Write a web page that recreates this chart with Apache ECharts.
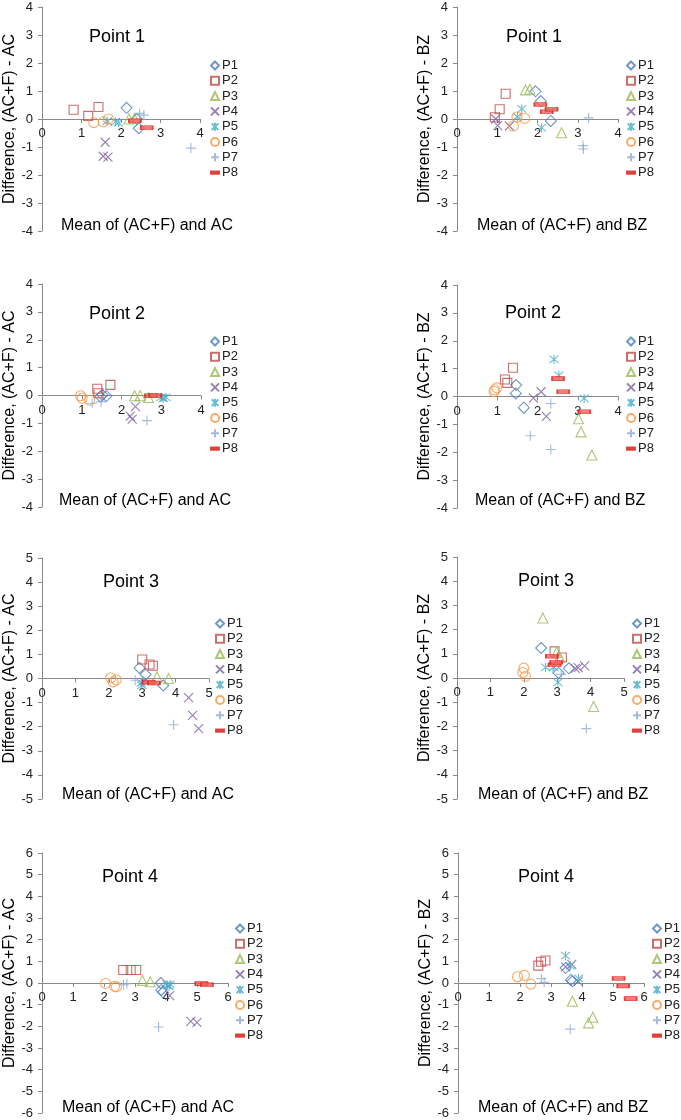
<!DOCTYPE html>
<html>
<head>
<meta charset="utf-8">
<script src="https://cdn.jsdelivr.net/npm/echarts@6/dist/echarts.min.js"></script>
<style>
html,body{margin:0;padding:0;background:#fff;}
#chart{width:681px;height:1120px;}
</style>
</head>
<body>
<div id="chart"></div>
<script>
// ---- DATA ----
const seriesNames = ['P1','P2','P3','P4','P5','P6','P7','P8'];
const panelTitles = ['Point 1','Point 1','Point 2','Point 2','Point 3','Point 3','Point 4','Point 4'];
const yTitles = ['Difference, (AC+F) - AC','Difference, (AC+F) - BZ'];
const xTitles = ['Mean of (AC+F) and AC','Mean of (AC+F) and BZ'];
const yLimits = [4,4,4,4,5,5,6,6];   // symmetric y range per panel
const xLimits = [4,4,4,4,5,5,6,6];   // x max per panel

// each panel: [P1..P8], each a list of [mean, difference]
const point1AC = [
  [[2.14,0.40],[2.45,-0.33],[2.40,0.0]],
  [[0.80,0.33],[1.17,0.11],[1.43,0.43]],
  [[2.20,0.0],[2.34,0.02]],
  [[1.60,-0.83],[1.55,-1.33],[1.67,-1.36]],
  [[1.65,-0.08],[1.86,-0.10],[1.94,-0.13]],
  [[1.31,-0.13],[1.55,-0.10],[1.68,0.0]],
  [[2.47,0.20],[2.58,0.14],[3.77,-1.04]],
  [[2.35,-0.06],[2.65,-0.31]]
];
const point1BZ = [
  [[1.95,0.99],[2.08,0.64],[2.33,-0.07]],
  [[1.21,0.90],[1.06,0.35],[0.94,0.06]],
  [[1.70,1.04],[1.81,1.06],[2.60,-0.49]],
  [[0.96,0.0],[1.01,-0.24],[1.30,-0.25]],
  [[1.61,0.36],[2.10,-0.31],[1.50,0.08]],
  [[1.40,-0.25],[1.49,0.07],[1.68,0.02]],
  [[3.27,0.04],[3.13,-0.95],[3.14,-1.07]],
  [[2.07,0.52],[2.23,0.26],[2.35,0.35]]
];
const point2AC = [
  [[1.47,-0.04],[1.62,-0.02],[1.52,0.02]],
  [[1.39,0.24],[1.72,0.38],[1.42,0.08]],
  [[2.33,-0.01],[2.47,-0.01],[2.68,-0.07]],
  [[2.22,-0.74],[2.27,-0.85],[2.35,-0.40]],
  [[2.99,-0.07],[3.12,-0.07],[3.05,-0.10]],
  [[0.97,-0.01],[1.01,-0.10],[1.20,-0.17]],
  [[1.26,-0.28],[1.49,-0.22],[2.64,-0.90]],
  [[2.74,-0.01],[2.85,0.0]]
];
const point2BZ = [
  [[1.47,0.41],[1.46,0.11],[1.66,-0.40]],
  [[1.19,0.61],[1.25,0.49],[1.39,1.03]],
  [[3.02,-0.80],[3.08,-1.27],[3.35,-2.10]],
  [[1.90,-0.06],[2.09,0.17],[2.22,-0.71]],
  [[2.41,1.33],[2.53,0.76],[3.16,-0.07]],
  [[0.92,0.18],[0.99,0.31],[0.94,0.24]],
  [[1.82,-1.41],[2.33,-0.25],[2.33,-1.90]],
  [[2.51,0.64],[2.64,0.17],[3.16,-0.55]]
];
const point3AC = [
  [[2.92,0.44],[3.10,0.17],[3.63,-0.29]],
  [[3.00,0.79],[3.22,0.58],[3.32,0.53]],
  [[3.44,0.07],[3.79,0.0]],
  [[4.39,-0.79],[4.51,-1.53],[4.69,-2.08]],
  [[2.97,-0.18],[2.99,-0.28],[3.05,-0.12]],
  [[2.06,0.03],[2.13,-0.14],[2.22,-0.06]],
  [[2.79,-0.07],[3.94,-1.92],[3.05,-0.10]],
  [[3.19,-0.15],[3.35,-0.19]]
];
const point3BZ = [
  [[2.52,1.24],[3.04,0.21],[3.35,0.40]],
  [[2.92,1.10],[3.14,0.85]],
  [[2.57,2.48],[2.98,1.06],[3.07,0.87],[4.09,-1.18]],
  [[3.54,0.40],[3.63,0.43],[3.82,0.50]],
  [[2.65,0.44],[2.90,0.45],[3.02,-0.18]],
  [[2.00,0.41],[1.97,0.23],[2.05,0.07]],
  [[2.87,0.37],[3.87,-2.09],[3.12,0.15]],
  [[2.84,0.90],[2.92,0.55],[2.97,0.65]]
];
const point4AC = [
  [[3.83,0.0],[3.85,-0.32],[3.90,-0.43]],
  [[2.62,0.60],[2.86,0.60],[3.04,0.60]],
  [[3.24,0.12],[3.49,0.06]],
  [[4.12,-0.58],[4.80,-1.77],[5.00,-1.82]],
  [[4.04,-0.09],[4.13,-0.06],[4.10,-0.15]],
  [[2.05,-0.02],[2.34,-0.15],[2.40,-0.18]],
  [[2.63,-0.08],[2.74,-0.03],[3.76,-2.03]],
  [[5.14,-0.03],[5.32,-0.08]]
];
const point4BZ = [
  [[3.47,0.69],[3.64,0.14],[3.69,0.08]],
  [[2.59,0.80],[2.68,0.98],[2.82,1.04]],
  [[3.69,-0.84],[4.21,-1.84],[4.35,-1.58]],
  [[3.47,0.74],[3.67,0.86],[3.88,0.08]],
  [[3.47,1.26],[3.62,0.80],[3.89,0.21]],
  [[1.92,0.29],[2.14,0.35],[2.35,-0.05]],
  [[2.69,0.20],[2.78,0.03],[3.62,-2.13]],
  [[5.18,0.21],[5.33,-0.14],[5.57,-0.72]]
];
const panelData = [point1AC, point1BZ, point2AC, point2BZ, point3AC, point3BZ, point4AC, point4BZ];

// ---- STYLE / LAYOUT ----
const FONT = 'Liberation Sans, Arial, sans-serif';
const colors = ['#4a7ebb','#be4b48','#98b954','#7d60a0','#46aac5','#f79646','#8eaad6','#e8312e'];
const symbols = [
  'diamond','rect','triangle',
  'path://M0,0L10,10M10,0L0,10',
  'path://M0,0L10,10M10,0L0,10M5,-1L5,11',
  'circle',
  'path://M5,0L5,10M0,5L10,5',
  'path://M0,0L10,0L10,3L0,3Z'
];
const symSizes = [11,9,10,9,9,10,10,[12,4]];
const grids = [
  {left:42, top:7,   width:158, height:224},
  {left:457,top:7,   width:161, height:224},
  {left:42, top:284, width:159, height:223},
  {left:457,top:285, width:161, height:223},
  {left:42, top:558, width:167, height:241},
  {left:457,top:557, width:167, height:242},
  {left:42, top:853, width:186, height:260},
  {left:458,top:853, width:186, height:260}
];
const titlePos = [[89,28],[506,28],[89,305],[505,304],[103,573],[518,572],[102,868],[518,868]];
const xNamePos = [[61,218],[477,218],[59,493],[475,493],[62,787],[478,787],[62,1100],[478,1100]];
const legendPos = [[210,59],[626,59],[210,335],[626,335],[215,617],[632,617],[235,922],[652,922]];

const option = {
  animation:false,
  backgroundColor:'#fff',
  textStyle:{fontFamily:FONT},
  title:[], grid:[], xAxis:[], yAxis:[], legend:[], series:[]
};
const axisGray = '#8a8a8a';
for (let p=0;p<8;p++){
  const g = grids[p];
  option.grid.push({left:g.left, top:g.top, width:g.width, height:g.height, containLabel:false});
  option.title.push({text:panelTitles[p], left:titlePos[p][0], top:titlePos[p][1], padding:0,
    textStyle:{fontFamily:FONT, fontSize:18, fontWeight:'normal', color:'#000'}});
  option.title.push({text:xTitles[p%2], left:xNamePos[p][0], top:xNamePos[p][1], padding:0,
    textStyle:{fontFamily:FONT, fontSize:16, fontWeight:'normal', color:'#000'}});
  option.xAxis.push({
    type:'value', gridIndex:p, min:0, max:xLimits[p], interval:1,
    position:'bottom', offset:-g.height/2,
    axisLine:{show:true, onZero:false, lineStyle:{color:axisGray, width:1}},
    axisTick:{show:true, length:4, lineStyle:{color:axisGray}},
    axisLabel:{fontFamily:FONT, fontSize:13, color:'#222', margin:8, showMinLabel:true, showMaxLabel:true},
    splitLine:{show:false}
  });
  option.yAxis.push({
    type:'value', gridIndex:p, min:-yLimits[p], max:yLimits[p], interval:1,
    name:yTitles[p%2], nameLocation:'middle', nameGap:24,
    nameTextStyle:{fontFamily:FONT, fontSize:16, color:'#000'},
    axisLine:{show:true, onZero:false, lineStyle:{color:axisGray, width:1}},
    axisTick:{show:true, length:4, lineStyle:{color:axisGray}},
    axisLabel:{fontFamily:FONT, fontSize:13, color:'#222', margin:9},
    splitLine:{show:false}
  });
  option.legend.push({
    orient:'vertical', left:legendPos[p][0], top:legendPos[p][1], padding:0,
    itemWidth:8, itemHeight:8, itemGap:2.3, selectedMode:false,
    data:seriesNames,
    textStyle:{fontFamily:FONT, fontSize:13, color:'#222', padding:[0,0,0,-2]}
  });
  for (let s=0;s<8;s++){
    const isDash = s===7;
    option.series.push({
      type:'scatter', name:seriesNames[s], xAxisIndex:p, yAxisIndex:p,
      data:panelData[p][s], symbol:symbols[s], symbolSize:symSizes[s],
      itemStyle: isDash ? {color:'#f25b57', borderColor:'#d9201c', borderWidth:1}
                        : {color:'rgba(0,0,0,0)', borderColor:colors[s], borderWidth:1.1},
      emphasis:{disabled:true}
    });
  }
}
const chart = echarts.init(document.getElementById('chart'), null, {renderer:'canvas'});
chart.setOption(option);
</script>
</body>
</html>
